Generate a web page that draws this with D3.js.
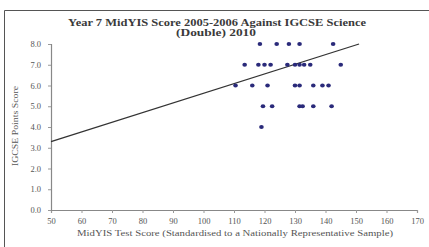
<!DOCTYPE html>
<html><head><meta charset="utf-8">
<script src="https://cdn.jsdelivr.net/npm/d3@7"></script>
<style>body{margin:0;background:#fff}svg{display:block}</style>
</head><body>
<svg id="c" width="429" height="247"></svg>
<script>
const titleLines = ["Year 7 MidYIS Score 2005-2006 Against IGCSE Science", "(Double) 2010"];
const xTitle = "MidYIS Test Score (Standardised to a Nationally Representative Sample)";
const yTitle = "IGCSE Points Score";
const xTicks = [50,60,70,80,90,100,110,120,130,140,150,160,170];
const yTicks = [0,1,2,3,4,5,6,7,8];
const midyis = [118.5,124,128,131.5,142.5,
  113.5,118,120,122,127.5,130,131.5,133,135,145,
  110.5,116,121,130,131.5,136,139,141,
  119.5,122.5,131.5,132.5,136,142,
  119];
const igcse = [8,8,8,8,8,
  7,7,7,7,7,7,7,7,7,7,
  6,6,6,6,6,6,6,6,
  5,5,5,5,5,5,
  4];
const trendX = [50,151];
const trendY = [3.3,8.0];

const svg = d3.select("#c");
const font = "'Liberation Serif','DejaVu Serif',serif";
const x = d3.scaleLinear().domain([50,170]).range([51,417]);
const y = d3.scaleLinear().domain([0,8]).range([210,44]);

// frame
svg.append("path").attr("d","M4.5,247 V10.5 H429").attr("fill","none").attr("stroke","#555").attr("stroke-width",1);

// title
svg.append("text").attr("x",217).attr("y",26).attr("text-anchor","middle")
  .attr("font-family",font).attr("font-size",9.5).attr("font-weight","bold").attr("fill","#3a3a3a")
  .attr("textLength",298).attr("lengthAdjust","spacingAndGlyphs").text(titleLines[0]);
svg.append("text").attr("x",216).attr("y",36).attr("text-anchor","middle")
  .attr("font-family",font).attr("font-size",9.5).attr("font-weight","bold").attr("fill","#3a3a3a")
  .attr("textLength",80).attr("lengthAdjust","spacingAndGlyphs").text(titleLines[1]);

// axes
const xa = svg.append("g").attr("transform","translate(0,210)")
  .call(d3.axisBottom(x).tickValues(xTicks).tickSize(3).tickFormat(d3.format("d")));
const ya = svg.append("g").attr("transform","translate(51,0)")
  .call(d3.axisLeft(y).tickValues(yTicks).tickSize(3).tickFormat(d3.format(".1f")));
[xa,ya].forEach(a=>{
  a.select(".domain").attr("stroke","#888").attr("stroke-width",1.2);
  a.selectAll(".tick line").attr("stroke","#999");
  a.selectAll(".tick text").attr("font-family",font).attr("font-size",8.5).attr("fill","#555");
});
xa.selectAll(".tick text").attr("dy","0.9em");
ya.selectAll(".tick text").attr("dx","-4");

// axis titles
svg.append("text").attr("x",235).attr("y",236).attr("text-anchor","middle")
  .attr("font-family",font).attr("font-size",8.5).attr("fill","#555")
  .attr("textLength",316).attr("lengthAdjust","spacingAndGlyphs").text(xTitle);
svg.append("text").attr("transform","translate(18,126) rotate(-90)").attr("text-anchor","middle")
  .attr("font-family",font).attr("font-size",8.5).attr("fill","#555")
  .attr("textLength",80).attr("lengthAdjust","spacingAndGlyphs").text(yTitle);

// trend line
svg.append("line").attr("x1",x(trendX[0])).attr("y1",y(trendY[0]))
  .attr("x2",x(trendX[1])).attr("y2",y(trendY[1]))
  .attr("stroke","#333").attr("stroke-width",1.3);

// points
svg.append("g").selectAll("ellipse").data(midyis).join("ellipse")
  .attr("cx",d=>x(d)).attr("cy",(d,i)=>y(igcse[i]))
  .attr("rx",2.3).attr("ry",1.9).attr("fill","#2a2a7a");
</script>
</body></html>
